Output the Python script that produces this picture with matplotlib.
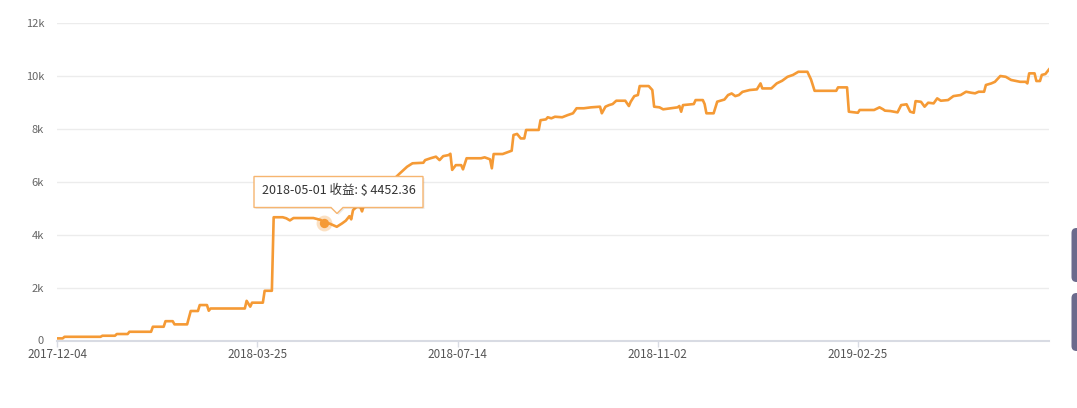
import matplotlib
matplotlib.use("Agg")
import matplotlib.pyplot as plt
from matplotlib.patches import Polygon, FancyBboxPatch

plt.rcParams['font.family'] = ['Noto Sans CJK SC', 'DejaVu Sans']

# point index (daily category position) and cumulative profit values
idx = [0, 3, 4, 24, 25, 32, 33, 39, 40, 52, 53, 59, 60, 64, 65, 72, 74, 78, 79, 83,
       84, 85, 104, 105, 107, 108, 114, 115, 119, 120, 125, 127, 129, 131, 142, 146,
       148, 151, 155, 158, 160, 162, 163, 164, 166, 168, 169, 170, 172, 176, 180, 184,
       186, 188, 190, 194, 197, 203, 204, 207, 210, 212, 214, 217, 218, 219, 221, 224,
       225, 227, 235, 237, 240, 241, 242, 247, 252, 253, 255, 257, 259, 260, 267, 268,
       271, 272, 274, 276, 280, 283, 286, 288, 292, 296, 301, 302, 304, 306, 308, 310,
       315, 317, 318, 320, 322, 323, 328, 330, 331, 334, 336, 344, 345, 346, 347, 353,
       354, 358, 359, 360, 364, 366, 370, 372, 374, 376, 378, 380, 384, 388, 390, 391,
       396, 399, 402, 405, 408, 411, 416, 418, 420, 432, 433, 438, 439, 444, 445, 453,
       456, 458, 459, 462, 466, 468, 471, 473, 475, 476, 479, 481, 483, 486, 488, 490,
       494, 497, 501, 504, 507, 509, 511, 514, 515, 518, 520, 523, 526, 529, 534, 537,
       538, 539, 542, 543, 545, 546, 548, 550]
profit = [80, 80, 140, 140, 180, 180, 245, 245, 330, 330, 520, 520, 730, 730, 610, 610,
          1115, 1115, 1340, 1340, 1125, 1210, 1210, 1500, 1280, 1430, 1430, 1880, 1880,
          4660, 4660, 4620, 4540, 4630, 4630, 4560, 4452.36, 4420, 4300, 4430, 4530, 4700,
          4580, 4930, 5050, 5050, 4880, 5100, 5250, 5300, 5500, 5700, 5800, 6190, 6320,
          6570, 6700, 6720, 6820, 6890, 6950, 6820, 6970, 7010, 7060, 6450, 6630, 6630,
          6470, 6890, 6890, 6925, 6850, 6510, 7050, 7050, 7175, 7770, 7810, 7640, 7640,
          7960, 7960, 8330, 8360, 8440, 8400, 8460, 8440, 8520, 8590, 8780, 8780, 8815,
          8840, 8590, 8840, 8900, 8940, 9065, 9065, 8865, 9025, 9240, 9280, 9620, 9620,
          9470, 8840, 8815, 8740, 8815, 8865, 8650, 8900, 8940, 9090, 9090, 8940, 8590,
          8590, 9030, 9110, 9280, 9340, 9240, 9280, 9400, 9470, 9495, 9720, 9530, 9530,
          9720, 9820, 9970, 10040, 10160, 10160, 9870, 9440, 9440, 9570, 9570, 8650, 8610,
          8715, 8715, 8815, 8740, 8690, 8675, 8625, 8900, 8930, 8650, 8610, 9050, 9025,
          8840, 8990, 8965, 9155, 9065, 9090, 9240, 9280, 9405, 9365, 9345, 9405, 9405,
          9660, 9720, 9780, 10000, 9970, 9850, 9780, 9780, 9720, 10100, 10100, 9810, 9810,
          10040, 10075, 10250]

tick_idx = [0, 111, 222, 333, 444]
tick_labels = ['2017-12-04', '2018-03-25', '2018-07-14', '2018-11-02', '2019-02-25']
y_ticks = [0, 2000, 4000, 6000, 8000, 10000, 12000]
y_labels = ['0', '2k', '4k', '6k', '8k', '10k', '12k']

hl_idx = 148
hl_date = '2018-05-01'
hl_value = 4452.36

W, H = 1077, 408
fig = plt.figure(figsize=(W / 100, H / 100), dpi=100)
ax = fig.add_axes([57.3 / W, 1 - 340.5 / H, (1049 - 57.3) / W, (340.5 - 23.1) / H])

line_color = '#f59a35'
ax.plot(idx, profit, color=line_color, lw=1.9, solid_joinstyle='round', zorder=3)

ax.set_xlim(0, 550)
ax.set_ylim(0, 12000)
ax.set_yticks(y_ticks)
ax.set_yticklabels(y_labels)
ax.set_xticks(tick_idx)
ax.set_xticklabels(tick_labels)

ax.grid(axis='y', color='#ececec', lw=1)
ax.set_axisbelow(True)
for s in ['top', 'right', 'left']:
    ax.spines[s].set_visible(False)
ax.spines['bottom'].set_color('#d8dbe3')
ax.spines['bottom'].set_linewidth(1.5)
ax.tick_params(axis='y', length=0, pad=9.5, labelsize=8, labelcolor='#666666')
ax.tick_params(axis='x', length=4, width=1, color='#d8dbe3', pad=1.5, labelsize=8.4,
               labelcolor='#555555')

# highlighted point
ax.scatter([hl_idx], [hl_value], s=130, color=line_color, alpha=0.3, lw=0, zorder=4)
ax.scatter([hl_idx], [hl_value], s=45, color=line_color, lw=0, zorder=5)

# tooltip (display pixel coords, origin bottom-left)
def P(x, y):
    return (x, H - y)

box = [P(254, 176.5), P(423, 176.5), P(423, 207.5), P(343, 207.5), P(337, 213.5),
       P(331, 207.5), P(254, 207.5)]
shadow = [(x + 1.5, y - 1.5) for x, y in box]
fig.patches.append(Polygon(shadow, closed=True, transform=None, facecolor='#000000',
                           alpha=0.08, lw=0, zorder=9))
fig.patches.append(Polygon(box, closed=True, transform=None, facecolor='white',
                           edgecolor='#f6b570', lw=1, zorder=10))
fig.text(262.5 / W, 1 - 190.5 / H, f'{hl_date} 收益: $ {hl_value}', fontsize=9.0,
         color='#333333', va='center', ha='left', zorder=11)

# page widgets at the right edge
for y0, y1 in [(228, 282), (293, 351)]:
    fig.patches.append(FancyBboxPatch((1071.5, H - y1), 20, y1 - y0,
                                      boxstyle='round,pad=0,rounding_size=5',
                                      transform=None, facecolor='#6b6a8c', lw=0))

fig.savefig('out.png', dpi=100)
